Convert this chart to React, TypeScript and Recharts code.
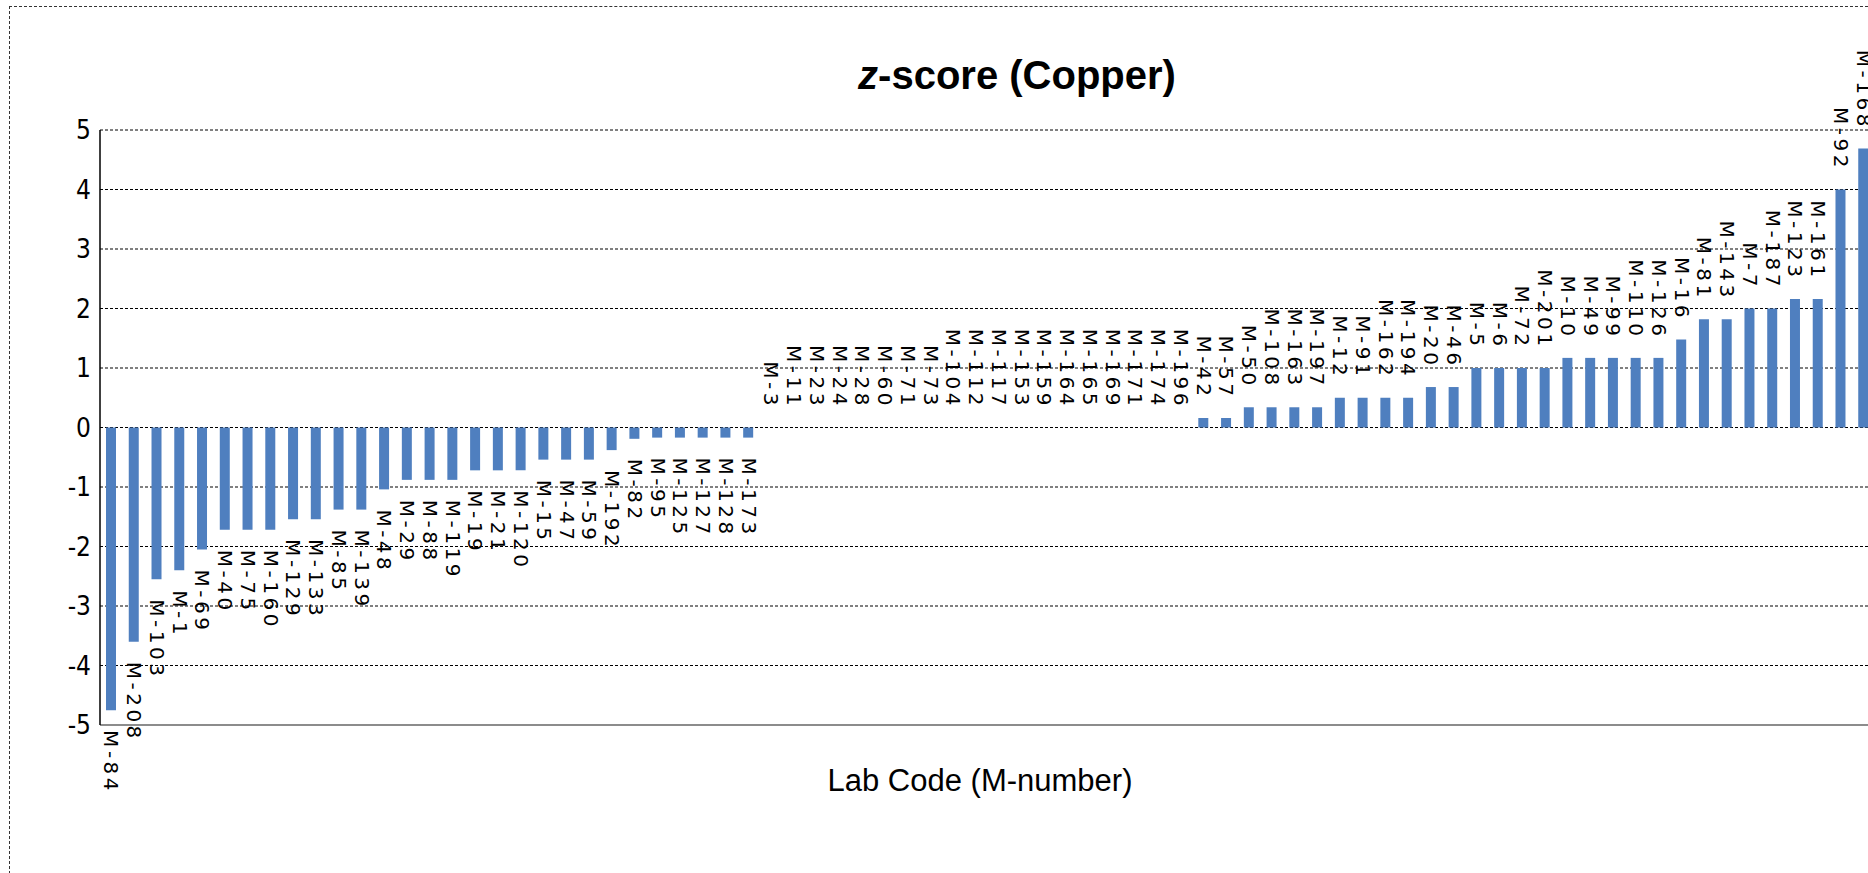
import { ComposedChart, Bar, Line, XAxis, YAxis, CartesianGrid, ReferenceLine, LabelList } from 'recharts';

const labCodes = [
  'M-84', 'M-208', 'M-103', 'M-1', 'M-69', 'M-40', 'M-75', 'M-160', 'M-129', 'M-133',
  'M-85', 'M-139', 'M-48', 'M-29', 'M-88', 'M-119', 'M-19', 'M-21', 'M-120', 'M-15',
  'M-47', 'M-59', 'M-192', 'M-82', 'M-95', 'M-125', 'M-127', 'M-128', 'M-173', 'M-3',
  'M-11', 'M-23', 'M-24', 'M-28', 'M-60', 'M-71', 'M-73', 'M-104', 'M-112', 'M-117',
  'M-153', 'M-159', 'M-164', 'M-165', 'M-169', 'M-171', 'M-174', 'M-196', 'M-42', 'M-57',
  'M-50', 'M-108', 'M-163', 'M-197', 'M-12', 'M-91', 'M-162', 'M-194', 'M-20', 'M-46',
  'M-5', 'M-6', 'M-72', 'M-201', 'M-10', 'M-49', 'M-99', 'M-110', 'M-126', 'M-16',
  'M-81', 'M-143', 'M-7', 'M-187', 'M-123', 'M-161', 'M-92', 'M-168',
];

const zScores = [
  -4.75, -3.6, -2.55, -2.4, -2.05, -1.72, -1.72, -1.72, -1.54, -1.54,
  -1.38, -1.38, -1.04, -0.88, -0.88, -0.88, -0.72, -0.72, -0.72, -0.54,
  -0.54, -0.54, -0.38, -0.19, -0.17, -0.17, -0.17, -0.17, -0.17, 0,
  0, 0, 0, 0, 0, 0, 0, 0, 0, 0,
  0, 0, 0, 0, 0, 0, 0, 0, 0.16, 0.16,
  0.34, 0.34, 0.34, 0.34, 0.5, 0.5, 0.5, 0.5, 0.68, 0.68,
  1.0, 1.0, 1.0, 1.0, 1.17, 1.17, 1.17, 1.17, 1.17, 1.48,
  1.82, 1.82, 2.0, 2.0, 2.16, 2.16, 4.0, 4.69,
];

const yTicks = [-5, -4, -3, -2, -1, 0, 1, 2, 3, 4, 5];

const data = labCodes.map((code, i) => ({ code, z: zScores[i] }));

const narrow = "'Liberation Sans Narrow', 'DejaVu Sans Condensed', 'Liberation Sans', sans-serif";

// code label sits past the end of each bar, turned to read top to bottom.
// x/y come from the hidden line point, i.e. the bar end at the band centre
function CodeLabel(props: any) {
  const { x, y, value } = props;
  const z = zScores[labCodes.indexOf(value)];
  const neg = z < 0;
  const ty = neg ? y + 20 : y - 18.5;
  return (
    <text
      x={x}
      y={ty}
      transform={`rotate(90 ${x} ${ty})`}
      textAnchor={neg ? 'start' : 'end'}
      dominantBaseline="central"
      fontFamily="'DejaVu Sans', sans-serif"
      fontSize={20}
      letterSpacing={3.5}
      fill="#000"
    >
      {value}
    </text>
  );
}

export default function App() {
  return (
    <div
      style={{
        position: 'absolute',
        left: 9,
        top: 6,
        width: 1858,
        height: 867,
        overflow: 'hidden',
        borderLeft: '1px dashed #333',
        borderTop: '1px dashed #333',
        background: '#fff',
        fontFamily: "'Liberation Sans', Arial, sans-serif",
      }}
    >
      <div
        style={{
          position: 'absolute',
          left: 1007,
          top: 68,
          transform: 'translate(-50%, -50%)',
          fontSize: 40,
          fontWeight: 'bold',
          whiteSpace: 'nowrap',
          color: '#000',
        }}
      >
        <i>z</i>-score (Copper)
      </div>
      <div
        style={{
          position: 'absolute',
          left: 970,
          top: 774,
          transform: 'translate(-50%, -50%)',
          fontSize: 31,
          whiteSpace: 'nowrap',
          color: '#000',
        }}
      >
        Lab Code (M-number)
      </div>
      <div style={{ position: 'absolute', left: 0, top: 0 }}>
        <ComposedChart
          width={1870}
          height={860}
          data={data}
          margin={{ top: 123, right: 5, left: 0, bottom: 142 }}
        >
          <CartesianGrid
            horizontal
            vertical={false}
            stroke="#000"
            strokeDasharray="3 2"
          />
          <XAxis dataKey="code" hide />
          <YAxis
            width={90}
            domain={[-5, 5]}
            ticks={yTicks}
            interval={0}
            tickLine={false}
            tickSize={0}
            tickMargin={9}
            axisLine={{ stroke: '#000', strokeWidth: 1.5 }}
            tick={{ fill: '#000', fontSize: 26, fontFamily: narrow }}
          />
          <ReferenceLine y={-5} stroke="#8c8c8c" strokeWidth={2} />
          <Bar dataKey="z" fill="#4F7FBF" barSize={10} isAnimationActive={false} />
          <Line
            dataKey="z"
            stroke="none"
            dot={false}
            activeDot={false}
            isAnimationActive={false}
          >
            <LabelList dataKey="code" content={CodeLabel} />
          </Line>
        </ComposedChart>
      </div>
    </div>
  );
}
